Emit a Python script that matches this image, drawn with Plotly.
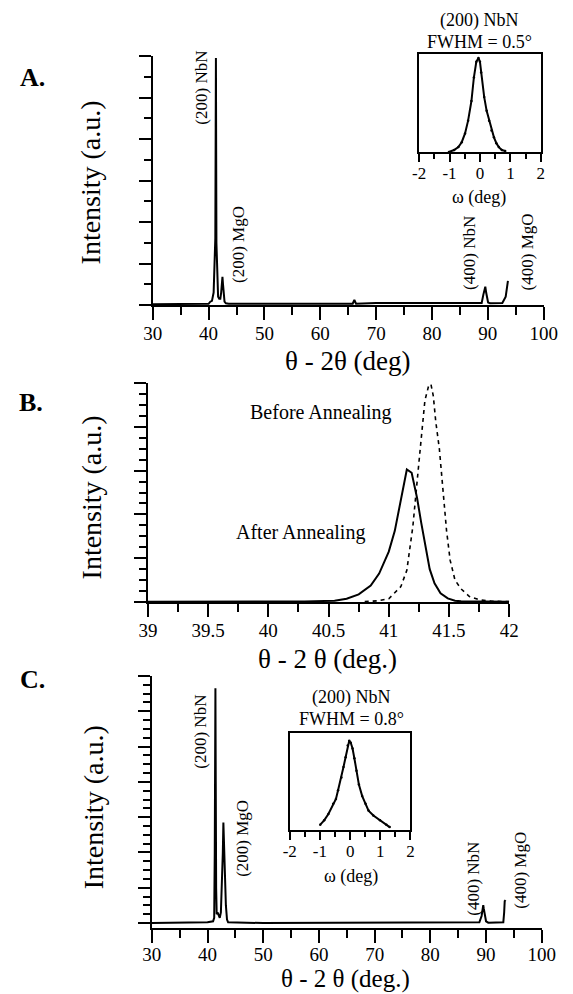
import plotly.graph_objects as go

W, H = 573, 994
FONT = "Liberation Serif, Times New Roman, serif"

# ---------------- data ----------------
# Panel A : theta-2theta scan
a_two_theta = [30, 35, 40, 40.3, 40.6, 40.9, 41.0, 41.1, 41.2, 41.27, 41.31, 41.35, 41.4,
               41.5, 41.6, 41.7, 41.9, 42.1, 42.25, 42.38, 42.48, 42.58, 42.7, 42.85, 43.1,
               43.6, 50, 60, 65.8, 66.1, 66.4, 70, 80, 88.9, 89.2, 89.4, 89.55, 89.7, 89.85,
               90.05, 90.4, 92.6, 93.2, 93.35, 93.45, 93.6]
a_intensity = [0.02, 0.02, 0.03, 0.08, 0.1, 0.3, 0.9, 1.0, 1.6, 4.3, 5.95, 4.0, 1.5,
               1.0, 0.6, 0.2, 0.15, 0.15, 0.3, 0.55, 0.68, 0.5, 0.2, 0.08, 0.04,
               0.03, 0.03, 0.03, 0.03, 0.12, 0.03, 0.05, 0.05, 0.05, 0.25, 0.4, 0.44, 0.3, 0.15,
               0.06, 0.04, 0.05, 0.2, 0.4, 0.55, 0.58]
# Panel A inset : rocking curve
a_omega = [-1.02, -0.85, -0.71, -0.6, -0.49, -0.39, -0.28, -0.2, -0.12, -0.05, 0.0, 0.04,
           0.14, 0.22, 0.30, 0.38, 0.46, 0.54, 0.62, 0.72, 0.83]
a_rocking = [0.0, 0.02, 0.05, 0.1, 0.19, 0.32, 0.52, 0.76, 0.92, 0.96, 0.92, 0.81,
             0.56, 0.42, 0.32, 0.22, 0.15, 0.09, 0.05, 0.02, 0.01]

# Panel B : (200) NbN peak before / after annealing
b_after_x = [39.0, 39.5, 40.0, 40.3, 40.55, 40.65, 40.75, 40.85, 40.92, 41.0, 41.05, 41.1,
             41.15, 41.19, 41.235, 41.27, 41.31, 41.34, 41.38, 41.43, 41.49, 41.55, 41.6,
             41.8, 42.0]
b_after_y = [0.02, 0.02, 0.03, 0.05, 0.12, 0.3, 0.7, 1.5, 2.6, 4.6, 6.5, 9.4,
             12.1, 11.8, 9.5, 7.2, 4.75, 3.0, 1.7, 0.8, 0.33, 0.12, 0.06,
             0.03, 0.02]
b_before_x = [40.8, 40.9, 41.0, 41.1, 41.15, 41.2, 41.25, 41.28, 41.3, 41.33, 41.35, 41.37,
              41.39, 41.42, 41.45, 41.48, 41.51, 41.55, 41.6, 41.67, 41.75, 41.85, 42.0]
b_before_y = [0.05, 0.1, 0.3, 1.4, 2.9, 6.9, 12.7, 16.0, 18.4, 19.7, 19.9, 18.8,
              16.5, 14.0, 10.5, 6.5, 3.8, 2.0, 1.2, 0.5, 0.2, 0.08, 0.03]

# Panel C : theta-2theta scan (second sample)
c_two_theta = [30, 35, 40, 41.0, 41.2, 41.3, 41.36, 41.42, 41.48, 41.55, 41.65, 41.8, 42.0,
               42.2, 42.4, 42.6, 42.75, 42.85, 42.95, 43.1, 43.3, 43.5, 43.7, 50, 60, 70, 80,
               88.8, 89.2, 89.4, 89.5, 89.6, 89.8, 90.0, 90.4, 93.1, 93.25, 93.35, 93.5]
c_intensity = [0, 0, 0.02, 0.05, 0.15, 2.0, 4.3, 6.65, 4.0, 1.0, 0.25, 0.3, 0.2,
               0.15, 0.3, 1.0, 2.0, 2.85, 2.3, 1.3, 0.5, 0.1, 0.02, 0, 0, 0, 0,
               0.02, 0.2, 0.35, 0.51, 0.4, 0.2, 0.05, 0.01, 0.02, 0.3, 0.62, 0.65]
# Panel C inset : rocking curve
c_omega = [-0.99, -0.86, -0.72, -0.56, -0.47, -0.40, -0.29, -0.22, -0.15, -0.08, -0.03,
           0.02, 0.08, 0.14, 0.21, 0.29, 0.40, 0.51, 0.61, 0.77, 0.99, 1.2, 1.31]
c_rocking = [0.055, 0.1, 0.165, 0.27, 0.32, 0.41, 0.54, 0.65, 0.75, 0.87, 0.92,
             0.9, 0.84, 0.74, 0.61, 0.47, 0.35, 0.27, 0.2, 0.15, 0.1, 0.055, 0.03]

wide_ticks = [30, 40, 50, 60, 70, 80, 90, 100]
wide_tick_labels = ["30", "40", "50", "60", "70", "80", "90", "100"]
b_ticks = [39, 39.5, 40, 40.5, 41, 41.5, 42]
b_tick_labels = ["39", "39.5", "40", "40.5", "41", "41.5", "42"]
inset_ticks = [-2, -1, 0, 1, 2]
inset_tick_labels = ["-2", "-1", "0", "1", "2"]


# ---------------- helpers ----------------
def px(x):
    return x / W


def py(y):
    return 1 - y / H


def xdom(x0, x1):
    return [px(x0), px(x1)]


def ydom(ytop, ybot):
    return [py(ybot), py(ytop)]


LINE = dict(color="black", width=2)

fig = go.Figure()
fig.add_trace(go.Scatter(x=a_two_theta, y=a_intensity, mode="lines", line=LINE,
                         xaxis="x", yaxis="y", showlegend=False))
fig.add_trace(go.Scatter(x=a_omega, y=a_rocking, mode="lines+markers", line=LINE,
                         marker=dict(size=2.5, color="black"),
                         xaxis="x2", yaxis="y2", showlegend=False))
fig.add_trace(go.Scatter(x=b_after_x, y=b_after_y, mode="lines", line=LINE,
                         xaxis="x3", yaxis="y3", showlegend=False))
fig.add_trace(go.Scatter(x=b_before_x, y=b_before_y, mode="lines",
                         line=dict(color="black", width=1.6, dash="4px,4px"),
                         xaxis="x3", yaxis="y3", showlegend=False))
fig.add_trace(go.Scatter(x=c_two_theta, y=c_intensity, mode="lines", line=LINE,
                         xaxis="x4", yaxis="y4", showlegend=False))
fig.add_trace(go.Scatter(x=c_omega, y=c_rocking, mode="lines+markers", line=LINE,
                         marker=dict(size=2.5, color="black"),
                         xaxis="x5", yaxis="y5", showlegend=False))

tickfont = dict(family=FONT, size=19, color="black")
insetfont = dict(family=FONT, size=17, color="black")


def xmain(domain, anchor, rng, tickvals, ticktext, minor_dtick, standoff=-3):
    return dict(domain=domain, anchor=anchor, range=rng, showline=True, linecolor="black",
                linewidth=2, ticks="outside", ticklen=13, tickwidth=1.5, tickcolor="black",
                tickmode="array", tickvals=tickvals, ticktext=ticktext, tickfont=tickfont,
                ticklabelstandoff=standoff,
                showgrid=False, zeroline=False,
                minor=dict(ticks="outside", dtick=minor_dtick, ticklen=8, tickwidth=1.5,
                           tickcolor="black", showgrid=False))


def ymain(domain, anchor, rng, dtick, minor_dtick):
    return dict(domain=domain, anchor=anchor, range=rng, showline=True, linecolor="black",
                linewidth=1.5, ticks="outside", ticklen=12, tickwidth=1.5, tickcolor="black",
                dtick=dtick, tick0=0, showticklabels=False, showgrid=False, zeroline=False,
                minor=dict(ticks="outside", dtick=minor_dtick, tick0=0, ticklen=7,
                           tickwidth=1.5, tickcolor="black", showgrid=False))


def xinset(domain, anchor):
    return dict(domain=domain, anchor=anchor, range=[-2, 2], showline=True, mirror=True,
                linecolor="black", linewidth=1.5, ticks="outside", ticklen=8, tickwidth=1.5,
                tickcolor="black", tickmode="array", tickvals=inset_ticks,
                ticktext=inset_tick_labels, tickfont=insetfont, ticklabelstandoff=-3,
                showgrid=False, zeroline=False,
                minor=dict(ticks="outside", dtick=0.5, ticklen=5, tickwidth=1.5,
                           tickcolor="black", showgrid=False))


def yinset(domain, anchor):
    return dict(domain=domain, anchor=anchor, range=[0, 1], showline=True, mirror=True,
                linecolor="black", linewidth=1.5, ticks="", showticklabels=False,
                showgrid=False, zeroline=False)


fig.update_layout(
    width=W, height=H, margin=dict(l=0, r=0, t=0, b=0),
    paper_bgcolor="white", plot_bgcolor="rgba(0,0,0,0)",
    xaxis=xmain(xdom(149, 557), "y", [30, 100], wide_ticks, wide_tick_labels, 5),
    yaxis=ymain(ydom(56, 305), "x", [0, 6], 1, 0.5),
    xaxis2=xinset(xdom(427, 554), "y2"),
    yaxis2=yinset(ydom(54, 152), "x2"),
    xaxis3=xmain(xdom(144, 521), "y3", [39, 42], b_ticks, b_tick_labels, 0.25),
    yaxis3=ymain(ydom(383, 602), "x3", [0, 20], 4, 1),
    xaxis4=xmain(xdom(148, 555), "y4", [30, 100], wide_ticks, wide_tick_labels, 5,
                 standoff=-5),
    yaxis4=ymain(ydom(676, 928), "x4", [-0.14, 7], 1, 0.25),
    xaxis5=xinset(xdom(292, 418), "y5"),
    yaxis5=yinset(ydom(733, 830), "x5"),
)


def note(text, x, y, size, angle=0, bold=False, yanchor="middle"):
    if bold:
        text = "<b>" + text + "</b>"
    fig.add_annotation(text=text, x=px(x), y=py(y), xref="paper", yref="paper",
                       showarrow=False, textangle=angle, xanchor="center", yanchor=yanchor,
                       borderpad=0,
                       font=dict(family=FONT, size=size, color="black"))


# panel letters
note("A.", 23, 78, 26, bold=True)
note("B.", 22, 402, 26, bold=True)
note("C.", 24, 679, 26, bold=True)

# axis titles
note("θ - 2θ (deg)", 353, 361, 27)
note("Intensity (a.u.)", 85, 182, 28, angle=-90)
note("θ - 2 θ (deg.)", 331, 659, 27)
note("Intensity (a.u.)", 85, 497, 28, angle=-90)
note("θ - 2 θ (deg.)", 350, 994, 25, yanchor="bottom")
note("Intensity (a.u.)", 87, 807, 28, angle=-90)

# panel A peak labels and inset titles
note("(200) NbN", 199, 88, 17, angle=-90)
note("(200) MgO", 238, 245, 17, angle=-90)
note("(400) NbN", 480, 253, 17, angle=-90)
note("(400) MgO", 540, 252, 17, angle=-90)
note("(200) NbN", 490, 20, 18)
note("FWHM = 0.5°", 490, 42, 18)
note("ω (deg)", 490, 197, 18)

# panel B labels
note("Before Annealing", 325, 412, 20)
note("After Annealing", 303, 532, 20)

# panel C peak labels and inset titles
note("(200) NbN", 198, 732, 17, angle=-90)
note("(200) MgO", 242, 838, 17, angle=-90)
note("(400) NbN", 483, 879, 17, angle=-90)
note("(400) MgO", 532, 870, 17, angle=-90)
note("(200) NbN", 356, 697, 18)
note("FWHM = 0.8°", 356, 719, 18)
note("ω (deg)", 356, 876, 18)

# the page's default body margin would shift the whole figure; remove it
fig.write_html("out.html", config={"displayModeBar": False},
               post_script="document.body.style.margin='0px';")
